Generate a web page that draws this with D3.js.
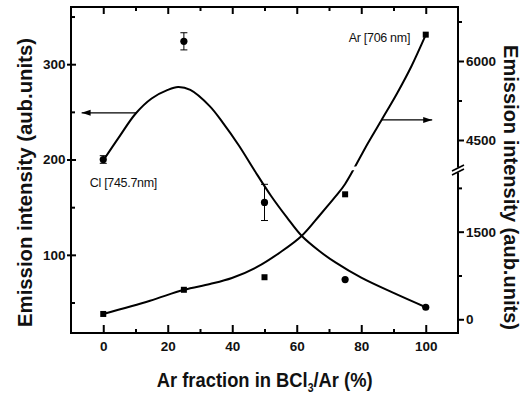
<!DOCTYPE html>
<html><head><meta charset="utf-8">
<script src="https://cdn.jsdelivr.net/npm/d3@7"></script>
<style>body{margin:0;background:#fff}svg{display:block}</style>
</head><body>
<svg id="c" width="530" height="396"></svg>
<script>
// ---- data ----
const arFraction   = [0, 25, 50, 75, 100];
const clIntensity  = [200, 324, 155, 74, 45];
const clError      = [4, 9, 19, 0, 0];
const arIntensity  = [91, 505, 720, 2140, 6500];

// smooth fitted curves
const clFitX = [0, 5, 10, 15, 20, 23.2, 27, 33, 37, 42, 47, 52, 57, 61.5, 67, 72, 80, 90, 100];
const clFitY = [199, 224, 248, 264, 273, 276, 273, 256, 239, 215, 188, 162, 139, 120, 104, 92, 76, 60, 45];
const arFitX = [0, 14.5, 25, 33.1, 39.9, 47.7, 54.8, 61.5, 67.2, 71.9, 75, 82.1, 86.3, 91, 95.6, 100];
const arFitY = [91, 318, 505, 604, 707, 896, 1144, 1426, 1786, 2094, 2317, 4443, 4880, 5373, 5905, 6494];

const xTicks = [0, 20, 40, 60, 80, 100];
const xMinor = [10, 30, 50, 70, 90];
const leftTicks = [100, 200, 300];
const leftMinor = [50, 150, 250, 350];
const rightTicks = [0, 1500, 4500, 6000];
const rightMinor = [750, 2250, 5250, 6750];

const labels = {
  x: "Ar fraction in BCl", xSub: "3", xTail: "/Ar (%)",
  yLeft: "Emission intensity (aub.units)",
  yRight: "Emission intensity (aub.units)",
  cl: "Cl [745.7nm]", ar: "Ar [706 nm]"
};

// ---- layout ----
const svg = d3.select("#c");
const L = 71, R = 458, T = 7, B = 333;
const x  = d3.scaleLinear().domain([-10, 110]).range([L, R]);
const yL = d3.scaleLinear().domain([18, 360]).range([B, T]);
// broken right axis: lower segment, break, upper segment
const yR = d3.scaleLinear().domain([-235, 2522, 4006, 7025]).range([B, 172, 166, T]);

const FONT = "'Liberation Sans', Arial, sans-serif";
svg.attr("font-family", FONT);

// frame
svg.append("rect").attr("x", L).attr("y", T).attr("width", R - L).attr("height", B - T)
  .attr("fill", "none").attr("stroke", "#000").attr("stroke-width", 2);

function styleAxis(g) {
  g.select(".domain").remove();
  g.selectAll(".tick line").attr("stroke", "#000").attr("stroke-width", 2);
  g.selectAll(".tick text").attr("font-family", FONT).attr("font-weight", "bold")
    .attr("font-size", 13.5).attr("fill", "#111");
}
const fmt = d3.format("d");
// bottom
svg.append("g").attr("transform", `translate(0,${B})`)
  .call(d3.axisBottom(x).tickValues(xTicks).tickFormat(fmt).tickSizeInner(-8).tickSizeOuter(0).tickPadding(8.5)).call(styleAxis);
svg.append("g").attr("transform", `translate(0,${B})`)
  .call(d3.axisBottom(x).tickValues(xMinor).tickSize(-4).tickFormat("")).call(styleAxis);
// top
svg.append("g").attr("transform", `translate(0,${T})`)
  .call(d3.axisTop(x).tickValues(xTicks).tickSize(-7).tickFormat("")).call(styleAxis);
svg.append("g").attr("transform", `translate(0,${T})`)
  .call(d3.axisTop(x).tickValues(xMinor).tickSize(-4).tickFormat("")).call(styleAxis);
// left
svg.append("g").attr("transform", `translate(${L},0)`)
  .call(d3.axisLeft(yL).tickValues(leftTicks).tickFormat(fmt).tickSize(4).tickPadding(1.5)).call(styleAxis);
svg.append("g").attr("transform", `translate(${L},0)`)
  .call(d3.axisRight(yL).tickValues(leftTicks).tickSize(5).tickFormat("")).call(styleAxis);
svg.append("g").attr("transform", `translate(${L},0)`)
  .call(d3.axisRight(yL).tickValues(leftMinor).tickSize(4).tickFormat("")).call(styleAxis);
// right
svg.append("g").attr("transform", `translate(${R},0)`)
  .call(d3.axisRight(yR).tickValues(rightTicks).tickFormat(fmt).tickSize(6).tickPadding(2)).call(styleAxis);
svg.append("g").attr("transform", `translate(${R},0)`)
  .call(d3.axisRight(yR).tickValues(rightMinor).tickSize(4).tickFormat("")).call(styleAxis);

// axis break marks
const bY = (yR(2522) + yR(4006)) / 2 + 1;
svg.append("rect").attr("x", R - 3).attr("y", bY - 2.5).attr("width", 6).attr("height", 5).attr("fill", "#fff");
[-2, 2].forEach(o => {
  svg.append("line").attr("x1", R - 6).attr("y1", bY + o + 3).attr("x2", R + 6).attr("y2", bY + o - 3)
    .attr("stroke", "#000").attr("stroke-width", 1.6);
});

// clip for Ar curve gap at break
const defs = svg.append("defs");
const cp = defs.append("clipPath").attr("id", "gap");
cp.append("rect").attr("x", 0).attr("y", 0).attr("width", 530).attr("height", 166.5);
cp.append("rect").attr("x", 0).attr("y", 170.2).attr("width", 530).attr("height", 300);

// curves
const clLine = d3.line().x((d, i) => x(clFitX[i])).y(d => yL(d)).curve(d3.curveCatmullRom.alpha(0.5));
svg.append("path").attr("d", clLine(clFitY)).attr("fill", "none").attr("stroke", "#000").attr("stroke-width", 2);
const arLine = d3.line().x((d, i) => x(arFitX[i])).y(d => yR(d)).curve(d3.curveCatmullRom.alpha(0.5));
svg.append("path").attr("d", arLine(arFitY)).attr("fill", "none").attr("stroke", "#000")
  .attr("stroke-width", 2).attr("clip-path", "url(#gap)");

// error bars
arFraction.forEach((f, i) => {
  const e = clError[i];
  if (!e) return;
  const cx = x(f), y1 = yL(clIntensity[i] - e), y2 = yL(clIntensity[i] + e);
  svg.append("line").attr("x1", cx).attr("x2", cx).attr("y1", y1).attr("y2", y2).attr("stroke", "#000").attr("stroke-width", 1);
  [y1, y2].forEach(yy => svg.append("line").attr("x1", cx - 3.5).attr("x2", cx + 3.5).attr("y1", yy).attr("y2", yy)
    .attr("stroke", "#000").attr("stroke-width", 1));
});
// markers
svg.selectAll("circle.cl").data(clIntensity).enter().append("circle")
  .attr("cx", (d, i) => x(arFraction[i])).attr("cy", d => yL(d)).attr("r", 3.6).attr("fill", "#000");
svg.selectAll("rect.ar").data(arIntensity).enter().append("rect")
  .attr("x", (d, i) => x(arFraction[i]) - 3).attr("y", d => yR(d) - 3).attr("width", 6).attr("height", 6).attr("fill", "#000");

// arrows
function arrow(x1, y1, x2, y2) {
  svg.append("line").attr("x1", x1).attr("y1", y1).attr("x2", x2).attr("y2", y2).attr("stroke", "#000").attr("stroke-width", 1.3);
  const dir = Math.sign(x2 - x1);
  svg.append("path").attr("d", `M${x2},${y2}L${x2 - dir * 9},${y2 - 3}L${x2 - dir * 9},${y2 + 3}Z`).attr("fill", "#000");
}
arrow(x(10.4), yL(249), x(-6.7), yL(249));
arrow(x(86.3), yR(4880), x(102), yR(4880));

// annotations
svg.append("text").attr("x", x(0) - 13.5).attr("y", yL(200) + 27).attr("font-size", 12.5).attr("fill", "#111")
  .attr("letter-spacing", -0.3).text(labels.cl);
svg.append("text").attr("x", x(100) - 77).attr("y", yR(6500) + 7).attr("font-size", 12.5).attr("fill", "#111")
  .attr("letter-spacing", -0.3).text(labels.ar);

// titles (fit to measured widths)
function title(tx, ty, rot, target, build) {
  const g = svg.append("g").attr("transform", `translate(${tx},${ty}) rotate(${rot})`);
  const inner = g.append("g");
  const t = inner.append("text").attr("text-anchor", "middle").attr("font-weight", "bold")
    .attr("font-size", 21).attr("fill", "#111");
  build(t);
  const w = t.node().getBBox().width;
  inner.attr("transform", `scale(${target / w},1)`);
}
title(31.5, 182.5, -90, 289, t => t.text(labels.yLeft));
title(504, 187.5, 90, 285, t => t.text(labels.yRight));
title(264.7, 386.5, 0, 216, t => {
  t.append("tspan").text(labels.x);
  t.append("tspan").attr("font-size", 12).attr("dy", 5).text(labels.xSub);
  t.append("tspan").attr("dy", -5).text(labels.xTail);
});
</script>
</body></html>
